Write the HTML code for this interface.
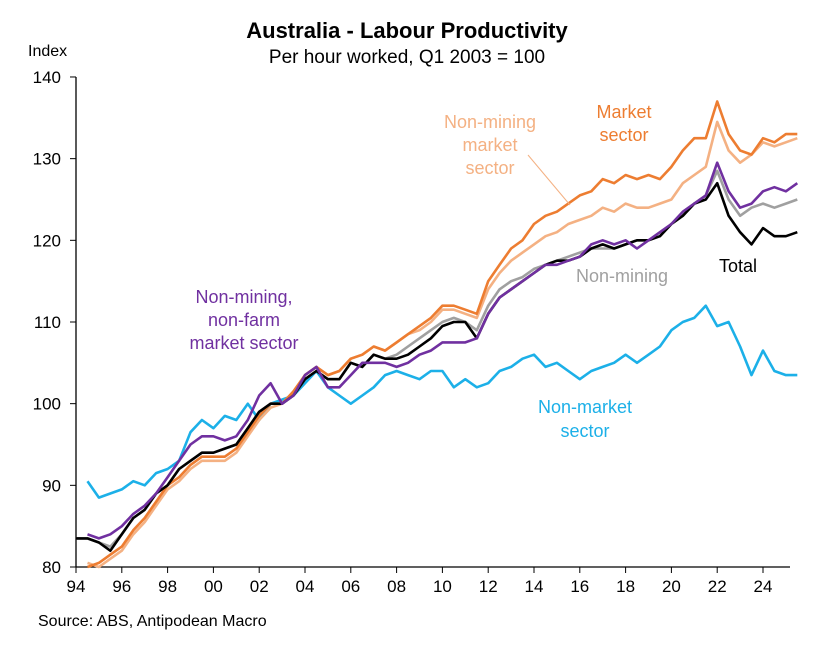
<!DOCTYPE html>
<html><head><meta charset="utf-8"><style>
body{margin:0;background:#fff;font-family:"Liberation Sans",Arial,sans-serif}
svg text{font-family:"Liberation Sans",Arial,sans-serif}
</style></head><body>
<svg id="c" width="813" height="644">
<text x="407" y="38" text-anchor="middle" font-size="22" font-weight="bold">Australia - Labour Productivity</text>
<text x="407" y="63" text-anchor="middle" font-size="19">Per hour worked, Q1 2003 = 100</text>
<text x="28" y="56" font-size="16">Index</text>
<text x="38" y="626" font-size="16">Source: ABS, Antipodean Macro</text>
<g id="axes"></g><g id="lines"></g>
<g font-size="18">
<text text-anchor="middle" fill="#7030a0"><tspan x="244" y="303">Non-mining,</tspan><tspan x="244" dy="23">non-farm</tspan><tspan x="244" dy="23">market sector</tspan></text>
<text fill="#f4b183" text-anchor="middle"><tspan x="490" y="128">Non-mining</tspan><tspan x="490" dy="23">market</tspan><tspan x="490" dy="23">sector</tspan></text>
<line x1="528" y1="155" x2="570" y2="205" stroke="#f4b183" stroke-width="1"/>
<text fill="#ed7d31" text-anchor="middle"><tspan x="624" y="118">Market</tspan><tspan x="624" dy="23">sector</tspan></text>
<text x="622" y="282" text-anchor="middle" fill="#a0a0a0">Non-mining</text>
<text x="738" y="272" text-anchor="middle" fill="#000">Total</text>
<text fill="#1cb0e8" text-anchor="middle"><tspan x="585" y="413">Non-market</tspan><tspan x="585" dy="24">sector</tspan></text>
</g>
</svg>
<script>
const years=[];for(let i=0;i<64;i++)years.push(1994+i*0.5);
const yTicks=[80,90,100,110,120,130,140];
const xTickLabels=["94","96","98","00","02","04","06","08","10","12","14","16","18","20","22","24"];
const xTickYears=[1994,1996,1998,2000,2002,2004,2006,2008,2010,2012,2014,2016,2018,2020,2022,2024];
const total=[83.5,83.5,83,82,84,86,87,89,90,92,93,94,94,94.5,95,97,99,100,100,101,103,104,103,103,105,104.5,106,105.5,105.5,106,107,108,109.5,110,110,108,111,113,114,115,116,117,117.5,117.5,118,119,119.5,119,119.5,120,120,120.5,122,123,124.5,125,127,123,121,119.5,121.5,120.5,120.5,121];
const market=[null,80,80.5,81.5,82.5,84.5,86,88,90,91,92.5,93.5,93.5,93.5,94.5,96.5,98.5,100,100,101.5,103.5,104.5,103.5,104,105.5,106,107,106.5,107.5,108.5,109.5,110.5,112,112,111.5,111,115,117,119,120,122,123,123.5,124.5,125.5,126,127.5,127,128,127.5,128,127.5,129,131,132.5,132.5,137,133,131,130.5,132.5,132,133,133];
const nonMiningMarket=[null,80.5,80,81,82,84,85.5,87.5,89.5,90.5,92,93,93,93,94,96,98,99.5,100,101.5,103.5,104.5,103.5,104,105.5,106,107,106.5,107.5,108.5,109,110,111.5,111.5,111,110.5,114,116,117.5,118.5,119.5,120.5,121,122,122.5,123,124,123.5,124.5,124,124,124.5,125,127,128,129,134.5,131,129.5,130.5,132,131.5,132,132.5];
const nonMining=[83.5,83.5,83,82.5,84,86,87,89,90,92,93,94,94,94.5,95,97,99,100,100,101,103,104,103,103,105,104.5,106,105.5,106,107,108,109,110,110.5,110,109,112,114,115,115.5,116.5,117,117.5,118,118.5,119,119,119,119.5,120,120,120.5,122,123,124.5,125.5,128.5,125,123,124,124.5,124,124.5,125];
const nonMiningNonFarm=[null,84,83.5,84,85,86.5,87.5,89,91,93,95,96,96,95.5,96,98,101,102.5,100,101,103.5,104.5,102,102,103.5,105,105,105,104.5,105,106,106.5,107.5,107.5,107.5,108,111,113,114,115,116,117,117,117.5,118,119.5,120,119.5,120,119,120,121,122,123.5,124.5,125.5,129.5,126,124,124.5,126,126.5,126,127];
const nonMarket=[null,90.5,88.5,89,89.5,90.5,90,91.5,92,93,96.5,98,97,98.5,98,100,98,100,100.5,101,102.5,104,102,101,100,101,102,103.5,104,103.5,103,104,104,102,103,102,102.5,104,104.5,105.5,106,104.5,105,104,103,104,104.5,105,106,105,106,107,109,110,110.5,112,109.5,110,107,103.5,106.5,104,103.5,103.5];
const NS='http://www.w3.org/2000/svg';
const X=yr=>76+(yr-1994)*22.9;
const Y=v=>567-(v-80)*8.167;
const axes=document.getElementById('axes'),lines=document.getElementById('lines');
function mk(tag,at,parent){const e=document.createElementNS(NS,tag);for(const k in at)e.setAttribute(k,at[k]);parent.appendChild(e);return e;}
let a=mk('line',{x1:76,y1:Y(140),x2:76,y2:567,stroke:'#000','stroke-width':1.3},axes);


let b=mk('line',{x1:76,y1:567,x2:790,y2:567,stroke:'#000','stroke-width':1.3},axes);


yTicks.forEach(v=>{
  let t=mk('line',{x1:70,x2:76,y1:Y(v),y2:Y(v),stroke:'#000'},axes);
  
  
  let l=mk('text',{x:61,y:Y(v)+6,'text-anchor':'end','font-size':17},axes);l.textContent=v;
  
  
});
xTickYears.forEach((yr,i)=>{
  let t=mk('line',{x1:X(yr),x2:X(yr),y1:567,y2:573,stroke:'#000'},axes);
  
  
  let l=mk('text',{x:X(yr),y:592,'text-anchor':'middle','font-size':17},axes);l.textContent=xTickLabels[i];
  
  
});
const series=[[nonMarket,'#1cb0e8','line-non-market'],[nonMining,'#a0a0a0','line-non-mining'],[nonMiningMarket,'#f4b183','line-non-mining-market'],[market,'#ed7d31','line-market-sector'],[total,'#000000','line-total'],[nonMiningNonFarm,'#7030a0','line-non-mining-non-farm']];
series.forEach(([vals,col,name])=>{
  let d='';vals.forEach((v,i)=>{if(v==null)return;d+=(d?'L':'M')+X(years[i]).toFixed(1)+','+Y(v).toFixed(1);});
  let p=mk('path',{d:d,fill:'none',stroke:col,'stroke-width':2.6,'stroke-linejoin':'round'},lines);
  
  
});
</script>
</body></html>
